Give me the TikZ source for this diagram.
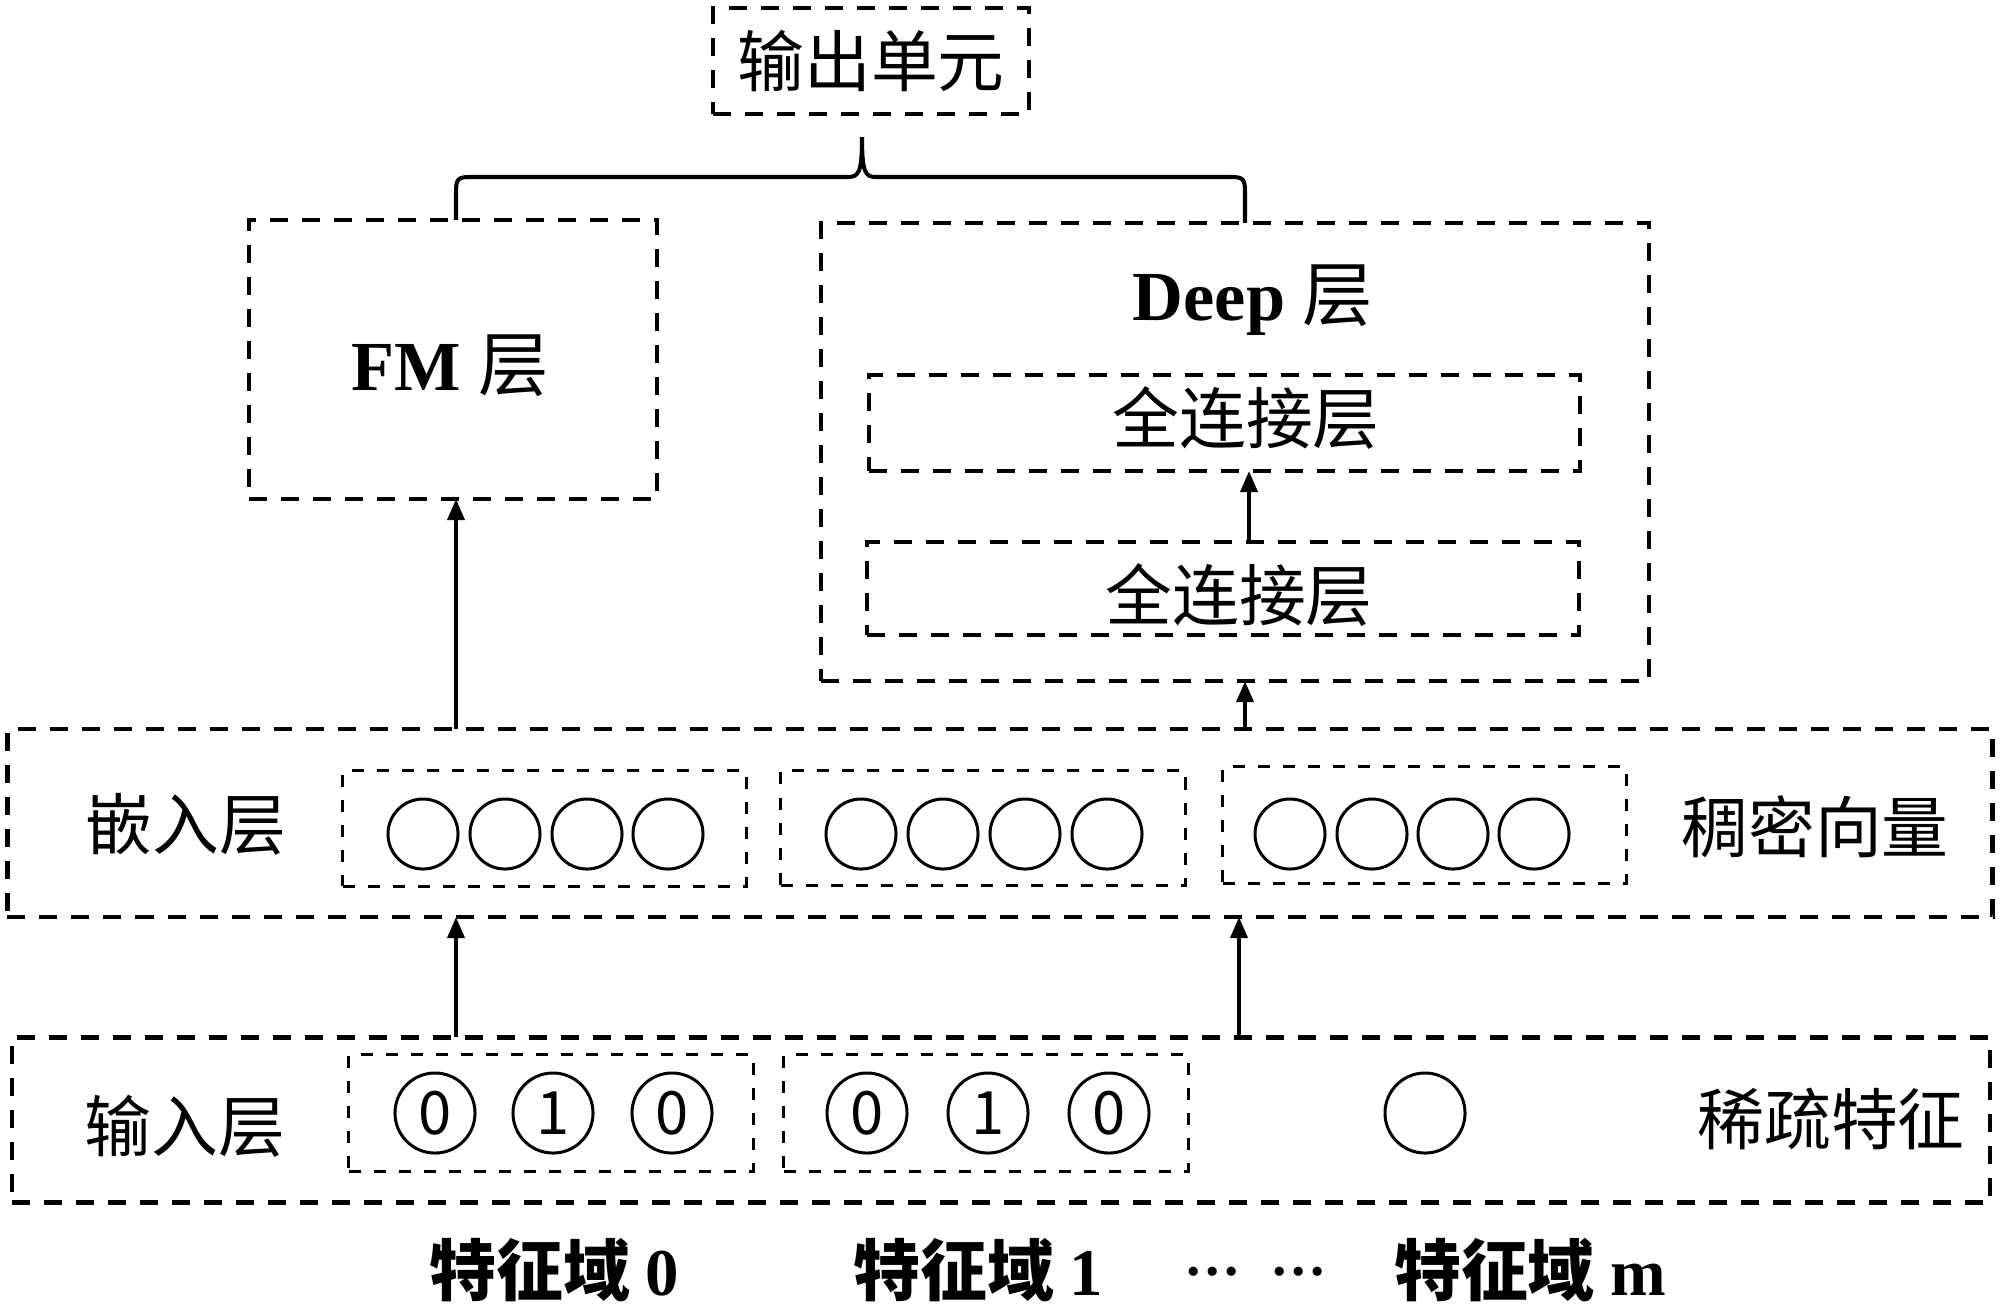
\documentclass[tikz,border=0pt]{standalone}
\usepackage{fontspec}
\setmainfont{Liberation Serif}
\newfontfamily\cjk{Noto Sans CJK SC}
\usetikzlibrary{arrows.meta}
\tikzset{
  every node/.style={inner sep=0pt, outer sep=0pt},
  bigbox/.style={draw, line width=1.22pt, dash pattern=on 0.18cm off 0.14cm},
  smallbox/.style={draw, line width=0.85pt, dash pattern=on 0.12cm off 0.13cm},
  cell/.style={draw, circle, line width=0.85pt, minimum size=0.70cm},
  bitcell/.style={draw, circle, line width=0.85pt, minimum size=0.80cm, font=\cjk\fontsize{17}{17}\selectfont},
  lbl/.style={font=\cjk\fontsize{19}{19}\selectfont},
  fieldlbl/.style={font=\cjk\bfseries\fontsize{19}{19}\selectfont},
  title/.style={font=\fontsize{20}{20}\selectfont\bfseries},
  arr/.style={line width=1.1pt, -{Triangle[length=0.21cm,width=0.17cm]}},
  bracepath/.style={line width=1.15pt}
}
\begin{document}
\begin{tikzpicture}[x=0.01cm, y=-0.01cm]
\useasboundingbox (0,0) rectangle (2000,1308);

% output unit
\node[bigbox, minimum width=3.16cm, minimum height=1.06cm, lbl] (out) at (871,61) {输出单元};

% FM layer
\node[bigbox, minimum width=4.08cm, minimum height=2.79cm] (fm) at (453,359.5) {};
\node[title] (fmlabel) at (450,366) {FM {\cjk\mdseries 层}};

% Deep layer
\node[bigbox, minimum width=8.28cm, minimum height=4.58cm] (deep) at (1235,452) {};
\node[title] (deeplabel) at (1253,300) {Deep {\cjk\mdseries 层}};
\node[bigbox, minimum width=7.11cm, minimum height=0.96cm] (fc2) at (1224.5,423) {};
\node[lbl] (fc2label) at (1246,418) {全连接层};
\node[bigbox, minimum width=7.12cm, minimum height=0.93cm] (fc1) at (1223,588.5) {};
\node[lbl] (fc1label) at (1239,595) {全连接层};

% embedding layer
\node[bigbox, minimum width=19.84cm, minimum height=1.88cm] (embed) at (1000,823) {};
\node[lbl] (embedlabel) at (186,824) {嵌入层};
\node[lbl] (denselabel) at (1815,827) {稠密向量};
\node[smallbox, minimum width=4.03cm, minimum height=1.15cm] (e1) at (544.5,828.5) {};
\node[smallbox, minimum width=4.04cm, minimum height=1.15cm] (e2) at (983,828) {};
\node[smallbox, minimum width=4.03cm, minimum height=1.16cm] (e3) at (1424.5,825) {};
\foreach \x [count=\i] in {423,505,587,668} \node[cell] (ea\i) at (\x,834) {};
\foreach \x [count=\i] in {861,943,1025,1107} \node[cell] (eb\i) at (\x,834) {};
\foreach \x [count=\i] in {1290,1372,1453,1534} \node[cell] (ec\i) at (\x,834) {};

% input layer
\node[bigbox, minimum width=19.77cm, minimum height=1.65cm] (input) at (1001,1120) {};
\node[lbl] (inputlabel) at (185,1126) {输入层};
\node[lbl] (sparselabel) at (1831,1119) {稀疏特征};
\node[smallbox, minimum width=4.04cm, minimum height=1.16cm] (i1) at (551,1113) {};
\node[smallbox, minimum width=4.04cm, minimum height=1.16cm] (i2) at (986,1113) {};
\node[bitcell] (ia1) at (435,1113) {0};
\node[bitcell] (ia2) at (553,1113) {1};
\node[bitcell] (ia3) at (672,1113) {0};
\node[bitcell] (ib1) at (867,1113) {0};
\node[bitcell] (ib2) at (988,1113) {1};
\node[bitcell] (ib3) at (1109,1113) {0};
\node[bitcell] (ic1) at (1425,1113) {};

% field labels
\node[fieldlbl] (f0) at (554,1270) {特征域 {\rmfamily\bfseries 0}};
\node[fieldlbl] (f1) at (978,1270) {特征域 {\rmfamily\bfseries 1}};
\node[font=\rmfamily\bfseries\fontsize{16}{16}\selectfont] (fdots) at (1256,1272) {…\hspace{0.3cm}…};
\node[fieldlbl] (fm2) at (1530,1270) {特征域 {\rmfamily\bfseries m}};

% arrows
\coordinate (xl) at (456,0);
\coordinate (xr) at (1245,0);
\coordinate (xr2) at (1239,0);
\coordinate (xm) at (1249,0);
\draw[arr] (input.north -| xl) -- (embed.south -| xl);
\draw[arr] (input.north -| xr2) -- (embed.south -| xr2);
\draw[arr] (embed.north -| xl) -- (fm.south -| xl);
\draw[arr] (embed.north -| xr) -- (deep.south -| xr);
\draw[arr] (fc1.north -| xm) -- (fc2.south -| xm);

% brace joining FM and Deep to output
\coordinate (tip) at (862,137);
\draw[bracepath] (fm.north -| xl) -- (456,192)
  .. controls (456,179) and (458,177) .. (470,177) -- (848,177)
  .. controls (859,177) and (862,172) .. (tip)
  .. controls (862,172) and (865,177) .. (876,177) -- (1231,177)
  .. controls (1243,177) and (1245,179) .. (1245,192) -- (deep.north -| xr);
\end{tikzpicture}
\end{document}
